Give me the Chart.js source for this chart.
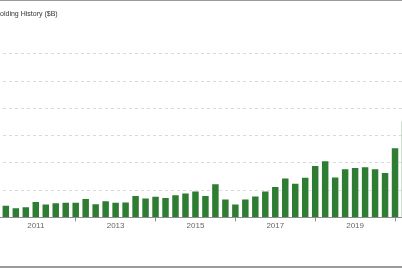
<!DOCTYPE html>
<html>
<head>
<meta charset="utf-8">
<title>Holding History</title>
<script src="https://cdn.jsdelivr.net/npm/chart.js@4.4.1/dist/chart.umd.min.js"></script>
<style>
    html, body { margin: 0; padding: 0; background: #fff; }
    #frame {
        position: relative;
        width: 402px;
        height: 268px;
        box-sizing: border-box;
        border-top: 1px solid #9b9b9b;
        border-bottom: 2px solid #9b9b9b;
        overflow: hidden;
    }
    /* the chart is wider than the frame, the left and right parts are cut off */
    #holdingChart { position: absolute; left: -19px; top: 0; }
</style>
</head>
<body>
<div id="frame">
    <canvas id="holdingChart" width="430" height="240"></canvas>
</div>
<script>
// Quarter ends
const quarters = [
    '2009-12-31',
    '2010-03-31', '2010-06-30', '2010-09-30', '2010-12-31',
    '2011-03-31', '2011-06-30', '2011-09-30', '2011-12-31',
    '2012-03-31', '2012-06-30', '2012-09-30', '2012-12-31',
    '2013-03-31', '2013-06-30', '2013-09-30', '2013-12-31',
    '2014-03-31', '2014-06-30', '2014-09-30', '2014-12-31',
    '2015-03-31', '2015-06-30', '2015-09-30', '2015-12-31',
    '2016-03-31', '2016-06-30', '2016-09-30', '2016-12-31',
    '2017-03-31', '2017-06-30', '2017-09-30', '2017-12-31',
    '2018-03-31', '2018-06-30', '2018-09-30', '2018-12-31',
    '2019-03-31', '2019-06-30', '2019-09-30', '2019-12-31',
    '2020-03-31'
];

// Holdings value, $B
const holdings = [
    1.5,
    2.3, 1.85, 2.05, 3.0,
    2.55, 2.8, 2.85, 2.85,
    3.55, 2.6, 3.15, 2.85,
    2.9, 4.1, 3.65, 3.95,
    3.75, 4.25, 4.55, 4.95,
    4.1, 6.25, 3.45, 2.55,
    3.45, 4.0, 4.95, 5.75,
    7.3, 6.35, 7.45, 9.6,
    10.5, 7.5, 9.0, 9.25,
    9.4, 9.0, 8.35, 12.85,
    17.8
];

// Axis labels and tick marks (placed at the turn of the year)
const yearLabels = ['2011', '2013', '2015', '2017', '2019'];
const tickYears = ['2012', '2014', '2016', '2018', '2020'];

document.addEventListener('DOMContentLoaded', () => {
    initializeChart();
});

// index of the quarter that ends right before the given year
function yearStartIndex(year) {
    return quarters.indexOf((Number(year) - 1) + '-12-31');
}

function initializeChart() {
    const labelAt = {};
    yearLabels.forEach(y => { labelAt[yearStartIndex(y)] = y; });
    const tickAt = tickYears.map(yearStartIndex);

    Chart.defaults.font.family = '"Liberation Sans", Arial, sans-serif';

    const ctx = document.getElementById('holdingChart').getContext('2d');
    new Chart(ctx, {
        type: 'bar',
        data: {
            labels: quarters,
            datasets: [{
                label: 'Holdings ($B)',
                data: holdings,
                backgroundColor: '#2f7d32',
                borderColor: 'rgba(255, 255, 255, 0.8)',
                borderWidth: 1,
                borderSkipped: 'start',
                barPercentage: 0.85,
                categoryPercentage: 1
            }]
        },
        options: {
            responsive: false,
            animation: false,
            layout: { padding: { left: 0, right: 1, top: 0, bottom: 10 } },
            plugins: {
                legend: { display: false },
                tooltip: { enabled: false },
                title: {
                    display: true,
                    text: '13F Holding History ($B)',
                    align: 'start',
                    color: '#333',
                    font: { size: 7, weight: 'normal' },
                    padding: { top: 9.3, bottom: 35.2 }
                }
            },
            scales: {
                x: {
                    offset: true,
                    grid: {
                        display: true,
                        offset: false,
                        drawOnChartArea: false,
                        drawTicks: true,
                        tickLength: 4,
                        tickWidth: 1,
                        tickColor: c => tickAt.includes(c.index) ? '#8c8c8c' : 'rgba(0, 0, 0, 0)'
                    },
                    border: { display: true, color: '#8c8c8c', width: 1 },
                    ticks: {
                        autoSkip: false,
                        maxRotation: 0,
                        minRotation: 0,
                        padding: 0,
                        color: '#666',
                        font: { size: 8 },
                        callback: (v, i) => labelAt[i] || ''
                    }
                },
                y: {
                    min: 0,
                    max: 30,
                    ticks: { display: false, stepSize: 5 },
                    grid: { color: '#d9d9d9', drawTicks: false },
                    border: { display: false, dash: [3, 3] },
                    afterFit: scale => { scale.width = 9.88; }
                }
            }
        }
    });
}
</script>
</body>
</html>
